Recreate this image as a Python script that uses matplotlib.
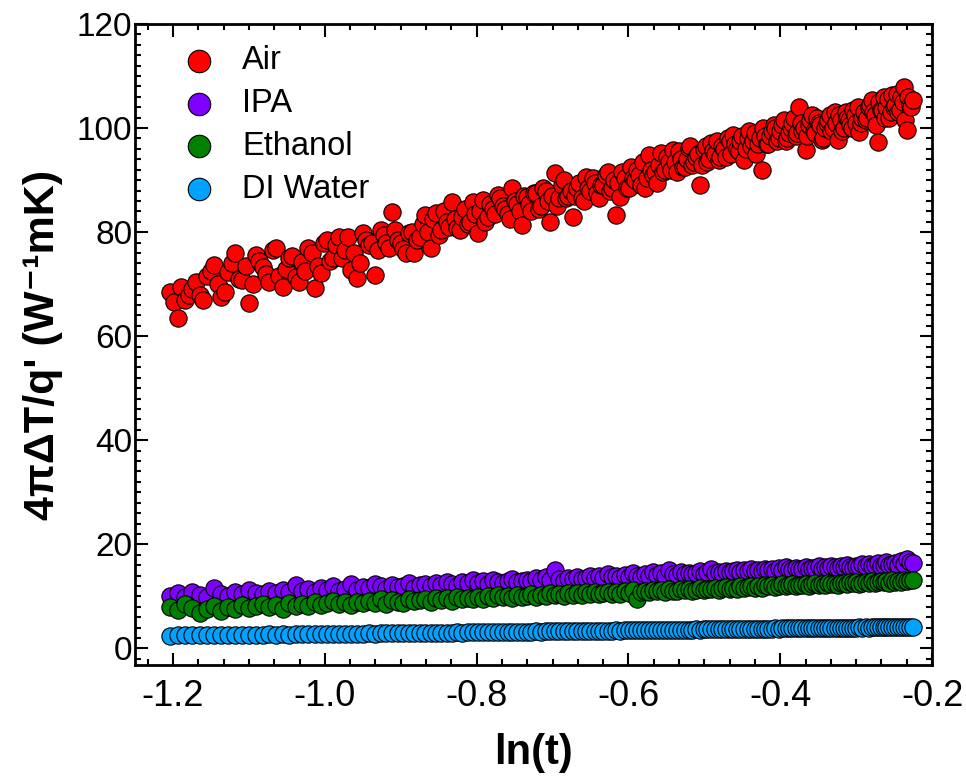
import numpy as np
import matplotlib
matplotlib.use("Agg")
import matplotlib.pyplot as plt
from matplotlib.ticker import MultipleLocator, AutoMinorLocator

plt.rcParams['font.family'] = ['Liberation Sans', 'DejaVu Sans']

# sampling times (ms), x axis is ln(t) with t in s
t_ms = [300, 303, 306, 309, 312, 315, 318, 321, 324, 327,
        330, 333, 336, 339, 342, 345, 348, 351, 354, 357,
        360, 363, 366, 369, 372, 375, 378, 381, 384, 387,
        390, 393, 396, 399, 402, 405, 408, 411, 414, 417,
        420, 423, 426, 429, 432, 435, 438, 441, 444, 447,
        450, 453, 456, 459, 462, 465, 468, 471, 474, 477,
        480, 483, 486, 489, 492, 495, 498, 501, 504, 507,
        510, 513, 516, 519, 522, 525, 528, 531, 534, 537,
        540, 543, 546, 549, 552, 555, 558, 561, 564, 567,
        570, 573, 576, 579, 582, 585, 588, 591, 594, 597,
        600, 603, 606, 609, 612, 615, 618, 621, 624, 627,
        630, 633, 636, 639, 642, 645, 648, 651, 654, 657,
        660, 663, 666, 669, 672, 675, 678, 681, 684, 687,
        690, 693, 696, 699, 702, 705, 708, 711, 714, 717,
        720, 723, 726, 729, 732, 735, 738, 741, 744, 747,
        750, 753, 756, 759, 762, 765, 768, 771, 774, 777,
        780, 783, 786, 789, 792, 795, 798]

# Air was sampled twice as often, the in-between samples are kept apart
t_ms_air_mid = [301.5, 304.5, 307.5, 310.5, 313.5, 316.5, 319.5, 322.5, 325.5, 328.5,
                331.5, 334.5, 337.5, 340.5, 343.5, 346.5, 349.5, 352.5, 355.5, 358.5,
                361.5, 364.5, 367.5, 370.5, 373.5, 376.5, 379.5, 382.5, 385.5, 388.5,
                391.5, 394.5, 397.5, 400.5, 403.5, 406.5, 409.5, 412.5, 415.5, 418.5,
                421.5, 424.5, 427.5, 430.5, 433.5, 436.5, 439.5, 442.5, 445.5, 448.5,
                451.5, 454.5, 457.5, 460.5, 463.5, 466.5, 469.5, 472.5, 475.5, 478.5,
                481.5, 484.5, 487.5, 490.5, 493.5, 496.5, 499.5, 502.5, 505.5, 508.5,
                511.5, 514.5, 517.5, 520.5, 523.5, 526.5, 529.5, 532.5, 535.5, 538.5,
                541.5, 544.5, 547.5, 550.5, 553.5, 556.5, 559.5, 562.5, 565.5, 568.5,
                571.5, 574.5, 577.5, 580.5, 583.5, 586.5, 589.5, 592.5, 595.5, 598.5,
                601.5, 604.5, 607.5, 610.5, 613.5, 616.5, 619.5, 622.5, 625.5, 628.5,
                631.5, 634.5, 637.5, 640.5, 643.5, 646.5, 649.5, 652.5, 655.5, 658.5,
                661.5, 664.5, 667.5, 670.5, 673.5, 676.5, 679.5, 682.5, 685.5, 688.5,
                691.5, 694.5, 697.5, 700.5, 703.5, 706.5, 709.5, 712.5, 715.5, 718.5,
                721.5, 724.5, 727.5, 730.5, 733.5, 736.5, 739.5, 742.5, 745.5, 748.5,
                751.5, 754.5, 757.5, 760.5, 763.5, 766.5, 769.5, 772.5, 775.5, 778.5,
                781.5, 784.5, 787.5, 790.5, 793.5, 796.5]

air = [68.5, 63.5, 67.0, 69.0, 68.0, 71.6, 73.7, 67.6, 72.4, 76.0,
       70.8, 66.4, 75.6, 73.3, 70.4, 77.0, 69.5, 75.0, 71.4, 74.3,
       77.0, 69.3, 72.2, 78.5, 75.0, 79.1, 76.6, 72.7, 71.2, 79.8,
       77.5, 71.8, 80.4, 78.0, 83.9, 78.5, 76.8, 79.8, 76.0, 79.0,
       83.3, 77.0, 83.7, 80.5, 82.0, 85.8, 80.8, 83.0, 81.5, 85.8,
       79.8, 86.2, 82.9, 84.5, 87.1, 85.0, 83.5, 88.5, 85.5, 81.4,
       86.8, 84.0, 87.5, 85.0, 88.0, 82.0, 91.4, 86.5, 90.0, 87.0,
       82.9, 88.5, 86.5, 90.6, 88.0, 89.5, 86.6, 89.0, 91.6, 88.5,
       83.2, 86.8, 90.5, 88.5, 90.4, 92.0, 89.0, 88.5, 94.8, 91.0,
       89.4, 95.2, 92.0, 93.5, 95.8, 91.5, 94.0, 92.5, 96.2, 93.0,
       94.5, 89.0, 96.0, 93.5, 97.1, 95.0, 93.9, 96.5, 94.5, 97.5,
       98.7, 96.0, 97.5, 93.9, 98.0, 96.5, 99.0, 97.0, 92.0, 98.5,
       97.0, 99.5, 100.0, 98.0, 100.5, 97.5, 99.0, 101.0, 98.5, 104.0,
       99.5, 95.8, 100.5, 102.5, 99.0, 101.0, 97.7, 100.0, 101.5, 99.5,
       103.0, 97.7, 101.5, 100.0, 102.0, 100.5, 103.5, 101.0, 99.2, 102.0,
       101.5, 104.0, 105.4, 102.5, 97.3, 103.5, 106.0, 104.0, 102.0, 106.3,
       104.5, 103.0, 106.0, 107.9, 99.6, 104.5, 105.4]

air_mid = [66.5, 69.5, 68.0, 70.5, 67.0, 72.5, 70.0, 68.5, 74.0, 71.0,
           73.5, 70.0, 74.5, 72.0, 76.5, 71.5, 73.0, 75.5, 70.5, 72.5,
           76.0, 73.5, 78.0, 74.5, 77.5, 75.0, 79.0, 76.0, 74.0, 78.5,
           78.0, 76.5, 79.5, 77.0, 80.5, 78.0, 76.0, 80.0, 78.5, 81.5,
           80.0, 82.5, 79.5, 84.0, 81.0, 82.5, 80.5, 84.5, 82.0, 83.5,
           84.0, 82.0, 85.5, 83.5, 86.5, 84.5, 82.5, 86.0, 84.0, 87.0,
           85.5, 87.5, 84.5, 88.5, 86.0, 87.0, 85.0, 89.0, 86.5, 88.0,
           87.0, 89.5, 86.0, 88.5, 90.5, 87.5, 89.0, 91.0, 88.0, 90.0,
           89.5, 91.5, 88.5, 92.5, 90.0, 91.0, 93.5, 90.5, 92.0, 91.5,
           93.0, 91.5, 94.5, 92.0, 93.5, 95.5, 92.5, 94.0, 96.5, 93.5,
           95.0, 93.0, 96.5, 94.0, 95.5, 97.5, 94.5, 96.0, 98.0, 95.0,
           97.0, 95.5, 98.5, 96.0, 99.5, 97.5, 95.0, 98.0, 100.0, 97.0,
           98.5, 100.5, 97.5, 99.5, 101.5, 98.0, 100.0, 102.0, 99.0, 101.0,
           100.0, 98.5, 101.5, 99.5, 102.0, 100.5, 98.0, 101.0, 102.5, 100.0,
           101.0, 102.5, 99.5, 103.0, 101.5, 100.0, 102.5, 104.0, 101.0, 103.0,
           102.0, 104.5, 103.0, 100.5, 105.0, 103.5, 102.0, 105.5, 103.0, 104.0,
           106.5, 103.5, 105.0, 101.5, 106.0, 104.0]

ipa = [10.0, 10.6, 9.8, 10.9, 10.3, 9.9, 11.6, 10.4, 10.1, 10.8,
       10.5, 11.2, 10.7, 10.4, 11.0, 10.6, 11.3, 10.9, 12.1, 11.0,
       11.4, 10.8, 11.7, 11.2, 11.9, 11.1, 11.5, 12.3, 11.3, 11.8,
       11.6, 12.4, 11.9, 11.4, 12.2, 11.8, 12.0, 12.5, 11.7, 12.1,
       12.3, 11.9, 12.6, 12.1, 12.8, 12.4, 12.0, 12.7, 12.5, 13.2,
       12.6, 12.9, 12.4, 13.1, 12.8, 12.5, 13.0, 13.4, 12.7, 13.0,
       13.2, 12.9, 13.5, 13.1, 13.7, 13.2, 15.0, 13.4, 13.0, 13.6,
       13.4, 13.8, 13.3, 13.6, 14.0, 13.5, 13.9, 13.6, 14.2, 13.7,
       13.9, 13.6, 14.1, 13.8, 14.4, 14.0, 13.7, 14.2, 14.0, 14.6,
       14.1, 14.4, 14.0, 15.1, 14.3, 14.1, 14.6, 14.2, 14.5, 14.3,
       14.4, 14.8, 14.3, 14.6, 15.2, 14.5, 14.7, 14.4, 14.9, 14.6,
       14.8, 15.1, 14.7, 15.0, 14.8, 15.3, 14.9, 15.1, 14.8, 15.2,
       15.0, 15.3, 14.9, 15.4, 15.1, 15.6, 15.2, 15.0, 15.5, 15.3,
       15.3, 15.7, 15.2, 15.5, 15.4, 15.8, 15.3, 15.6, 15.5, 15.9,
       15.6, 15.4, 15.8, 15.6, 16.1, 15.7, 15.5, 15.9, 15.8, 16.3,
       15.9, 16.2, 15.8, 16.0, 16.4, 15.9, 16.1, 16.6, 16.0, 16.2,
       16.4, 16.1, 16.7, 16.3, 17.2, 16.6, 16.5]

ethanol = [8.0, 7.4, 8.5, 7.8, 6.8, 7.6, 8.2, 7.1, 7.9, 7.5,
           8.3, 7.7, 8.1, 8.6, 7.9, 8.4, 7.6, 8.8, 8.2, 8.5,
           8.1, 8.9, 8.4, 8.7, 9.2, 8.5, 8.9, 8.3, 9.0, 8.7,
           9.1, 8.8, 9.4, 8.6, 9.3, 9.0, 8.8, 9.5, 9.1, 9.3,
           9.4, 9.0, 9.7, 9.3, 9.6, 9.2, 9.9, 9.5, 9.7, 9.4,
           9.8, 9.5, 10.1, 9.7, 10.3, 9.8, 10.0, 9.6, 10.2, 9.9,
           10.1, 10.4, 9.8, 10.3, 10.0, 10.6, 10.2, 10.5, 10.1, 10.7,
           10.3, 10.6, 10.2, 10.8, 10.5, 10.9, 10.4, 10.7, 10.9, 10.5,
           10.8, 10.5, 11.0, 10.7, 11.2, 9.4, 10.9, 11.1, 10.8, 11.3,
           11.0, 11.2, 10.9, 11.4, 11.1, 11.0, 11.5, 11.2, 11.4, 11.1,
           11.3, 11.6, 11.2, 11.5, 11.4, 11.7, 11.3, 11.6, 11.8, 11.5,
           11.7, 11.5, 11.9, 11.6, 11.8, 12.0, 11.7, 11.9, 11.6, 12.1,
           11.9, 12.2, 11.8, 12.0, 12.3, 11.9, 12.1, 12.4, 12.0, 12.2,
           12.1, 12.4, 12.0, 12.3, 12.5, 12.2, 12.4, 12.1, 12.6, 12.3,
           12.4, 12.2, 12.6, 12.5, 12.3, 12.7, 12.5, 12.8, 12.4, 12.6,
           12.7, 12.5, 12.9, 12.6, 12.8, 13.0, 12.7, 12.9, 12.6, 13.1,
           12.8, 13.0, 12.7, 13.2, 12.9, 13.1, 13.2]

water = [2.45, 2.50, 2.48, 2.52, 2.55, 2.50, 2.58, 2.53, 2.60, 2.57,
         2.62, 2.58, 2.65, 2.61, 2.67, 2.64, 2.70, 2.66, 2.72, 2.69,
         2.74, 2.71, 2.76, 2.73, 2.79, 2.76, 2.82, 2.78, 2.84, 2.81,
         2.86, 2.83, 2.89, 2.86, 2.91, 2.88, 2.94, 2.91, 2.96, 2.93,
         2.98, 2.96, 3.01, 2.98, 3.04, 3.01, 3.06, 3.03, 3.08, 3.06,
         3.10, 3.08, 3.13, 3.11, 3.15, 3.12, 3.18, 3.15, 3.20, 3.17,
         3.22, 3.20, 3.25, 3.22, 3.27, 3.25, 3.29, 3.27, 3.31, 3.29,
         3.33, 3.31, 3.36, 3.34, 3.38, 3.36, 3.40, 3.38, 3.42, 3.40,
         3.44, 3.42, 3.46, 3.44, 3.48, 3.46, 3.50, 3.48, 3.52, 3.50,
         3.54, 3.52, 3.56, 3.54, 3.58, 3.56, 3.60, 3.58, 3.62, 3.60,
         3.63, 3.61, 3.65, 3.63, 3.67, 3.65, 3.69, 3.67, 3.71, 3.69,
         3.72, 3.70, 3.74, 3.72, 3.76, 3.74, 3.78, 3.76, 3.80, 3.78,
         3.81, 3.79, 3.83, 3.81, 3.85, 3.83, 3.86, 3.84, 3.88, 3.86,
         3.89, 3.87, 3.91, 3.89, 3.92, 3.90, 3.94, 3.92, 3.95, 3.93,
         3.96, 3.94, 3.98, 3.96, 3.99, 3.97, 4.01, 3.99, 4.02, 4.00,
         4.03, 4.01, 4.05, 4.03, 4.06, 4.04, 4.07, 4.05, 4.08, 4.06,
         4.09, 4.07, 4.10, 4.08, 4.11, 4.09, 4.12]

x = np.log(np.array(t_ms) / 1000.0)
x_air_mid = np.log(np.array(t_ms_air_mid) / 1000.0)

# merge the two Air sample sets in time order
order = np.argsort(np.concatenate([x, x_air_mid]))
x_air = np.concatenate([x, x_air_mid])[order]
y_air = np.concatenate([air, air_mid])[order]

series = [("Air", x_air, y_air, "#ff0000"),
          ("IPA", x, ipa, "#8000ff"),
          ("Ethanol", x, ethanol, "#008000"),
          ("DI Water", x, water, "#00a2ff")]

fig = plt.figure(figsize=(9.66, 7.8), dpi=100)
ax = fig.add_axes([0.1398, 0.1474, 0.8251, 0.8218])

for name, xs, vals, col in series:
    ax.scatter(xs, vals, s=155, color=col, edgecolors="black", linewidths=0.8,
               label=name, zorder=3)

ax.set_xlim(-1.25, -0.2)
ax.set_ylim(-3.2, 120)
ax.xaxis.set_major_locator(MultipleLocator(0.2))
ax.xaxis.set_minor_locator(AutoMinorLocator(6))
ax.yaxis.set_major_locator(MultipleLocator(20))
ax.yaxis.set_minor_locator(MultipleLocator(2))

ax.tick_params(which="both", direction="in", top=True, right=True, width=1.5)
ax.tick_params(which="major", length=9)
ax.tick_params(which="minor", length=4.5)
ax.tick_params(axis="y", labelsize=24, pad=2)
ax.tick_params(axis="x", labelsize=26, pad=10)
for sp in ax.spines.values():
    sp.set_linewidth(2)

ax.set_xticks([-1.2, -1.0, -0.8, -0.6, -0.4, -0.2])
ax.set_xticklabels(["-1.2", "-1.0", "-0.8", "-0.6", "-0.4", "-0.2"], fontsize=26)

ax.set_xlabel("ln(t)", fontsize=30, fontweight="bold", labelpad=14)
ax.set_ylabel("4πΔT/q' (W⁻¹mK)", fontsize=31, fontweight="bold", labelpad=10)

ax.legend(loc="upper left", frameon=False, fontsize=23.5, markerscale=1.3,
          scatterpoints=1, handlelength=1.0, handletextpad=0.8, labelspacing=0.36,
          borderaxespad=0.0, bbox_to_anchor=(0.044, 0.987))

fig.savefig("out.png", dpi=100)
